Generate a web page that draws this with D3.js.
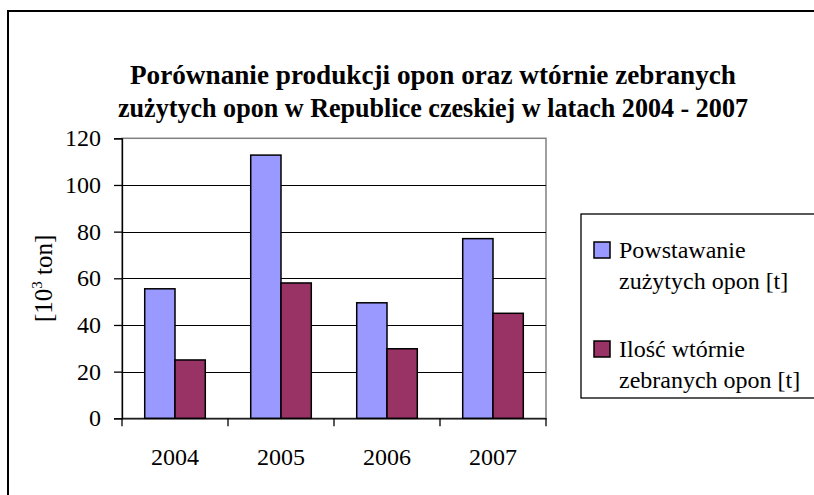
<!DOCTYPE html>
<html>
<head>
<meta charset="utf-8">
<script src="https://cdn.jsdelivr.net/npm/d3@7"></script>
<style>
  body { margin: 0; background: #fff; }
  text { font-family: "Liberation Serif", "Times New Roman", serif; fill: #000; }
</style>
</head>
<body>
<script>
// chart data
var years = ["2004", "2005", "2006", "2007"];
var seriesNames = ["Powstawanie zużytych opon [t]", "Ilość wtórnie zebranych opon [t]"];
var powstawanie = [55.5, 112.8, 49.5, 77];
var zebrane = [25, 58, 29.8, 45];
var yTicks = [0, 20, 40, 60, 80, 100, 120];
var titleLines = ["Porównanie produkcji opon oraz wtórnie zebranych",
                  "zużytych opon w Republice czeskiej w latach 2004 - 2007"];
var legendLines = [["Powstawanie", "zużytych opon [t]"], ["Ilość wtórnie", "zebranych opon [t]"]];
var colors = ["#9999FF", "#993366"];

var w = 814, h = 495;
var plotL = 122, plotR = 546, plotT = 138.3, plotB = 418.3;

var svg = d3.select("body").append("svg")
    .attr("width", w)
    .attr("height", h);

// outer chart border (runs off right / bottom edge)
svg.append("rect")
    .attr("x", 8).attr("y", 11)
    .attr("width", 820).attr("height", 500)
    .style("fill", "#fff")
    .style("stroke", "#000")
    .style("stroke-width", 2);

// title (condensed bold, like the original)
svg.selectAll(".title")
    .data(titleLines)
    .enter()
    .append("text")
    .attr("class", "title")
    .attr("x", 433)
    .attr("y", function(d, i){ return 84 + i * 33; })
    .attr("text-anchor", "middle")
    .attr("textLength", function(d, i){ return i == 0 ? 606 : 630; })
    .attr("lengthAdjust", "spacingAndGlyphs")
    .style("font-weight", "bold")
    .style("font-size", "28px")
    .text(function(d){ return d; });

// scales
var y = d3.scaleLinear()
    .domain([0, 120])
    .range([plotB, plotT]);

var xCat = d3.scaleBand()
    .domain(years)
    .range([plotL, plotR]);

var xSer = d3.scaleBand()
    .domain([0, 1])
    .range([0, xCat.bandwidth()])
    .paddingOuter(0.75);

// plot area border (gray top/right)
svg.append("rect")
    .attr("x", plotL).attr("y", plotT)
    .attr("width", plotR - plotL).attr("height", plotB - plotT)
    .style("fill", "#fff")
    .style("stroke", "#808080")
    .style("stroke-width", 1.5);

// gridlines
svg.selectAll(".grid")
    .data(yTicks.slice(1, -1))
    .enter()
    .append("line")
    .attr("class", "grid")
    .attr("x1", plotL).attr("x2", plotR)
    .attr("y1", function(d){ return Math.round(y(d)) + 0.5; })
    .attr("y2", function(d){ return Math.round(y(d)) + 0.5; })
    .style("stroke", "#000")
    .style("stroke-width", 1);

// bars
var rows = years.map(function(yr, i){ return { year: yr, vals: [powstawanie[i], zebrane[i]] }; });

var groups = svg.selectAll(".group")
    .data(rows)
    .enter()
    .append("g")
    .attr("class", "group")
    .attr("transform", function(d){ return "translate(" + xCat(d.year) + ",0)"; });

groups.selectAll("rect")
    .data(function(d){ return d.vals; })
    .enter()
    .append("rect")
    .attr("x", function(d, i){ return xSer(i); })
    .attr("y", function(d){ return y(d); })
    .attr("width", xSer.bandwidth())
    .attr("height", function(d){ return y(0) - y(d); })
    .style("fill", function(d, i){ return colors[i]; })
    .style("stroke", "#000")
    .style("stroke-width", 1.5);

// y axis
var yAxis = d3.axisLeft(y)
    .tickValues(yTicks)
    .tickSize(8)
    .tickPadding(13);

var yg = svg.append("g")
    .attr("transform", "translate(" + plotL + ",0)")
    .call(yAxis);
yg.selectAll("text").style("font-size", "24px").style("font-family", "Liberation Serif");
yg.selectAll("line, path").style("stroke", "#000").style("stroke-width", 1.3);

// x axis: labels centred, ticks on category boundaries
var xAxis = d3.axisBottom(xCat)
    .tickSize(0)
    .tickPadding(30);

var xg = svg.append("g")
    .attr("transform", "translate(0," + plotB + ")")
    .call(xAxis);
xg.selectAll("text").style("font-size", "24px").style("font-family", "Liberation Serif");
xg.select(".domain").style("stroke", "#000").style("stroke-width", 1.3);

var bounds = years.map(function(d){ return xCat(d); }).concat([plotR]);
xg.selectAll(".bound")
    .data(bounds)
    .enter()
    .append("line")
    .attr("class", "bound")
    .attr("x1", function(d){ return d; })
    .attr("x2", function(d){ return d; })
    .attr("y1", 0).attr("y2", 8)
    .style("stroke", "#000")
    .style("stroke-width", 1.3);

// y axis title
var yTitle = svg.append("text")
    .attr("transform", "translate(52," + ((plotT + plotB) / 2) + ") rotate(-90)")
    .attr("text-anchor", "middle")
    .style("font-size", "25px");
yTitle.append("tspan").text("[10");
yTitle.append("tspan").attr("dy", -10).style("font-size", "15px").text("3");
yTitle.append("tspan").attr("dy", 10).text(" ton]");

// legend
svg.append("rect")
    .attr("x", 581).attr("y", 214)
    .attr("width", 250).attr("height", 184)
    .style("fill", "#fff")
    .style("stroke", "#000")
    .style("stroke-width", 1.3);

var legend = svg.selectAll(".legend")
    .data(seriesNames)
    .enter()
    .append("g")
    .attr("class", "legend")
    .attr("transform", function(d, i){ return "translate(594," + (242 + i * 99) + ")"; });

legend.append("rect")
    .attr("width", 16).attr("height", 16)
    .style("fill", function(d, i){ return colors[i]; })
    .style("stroke", "#000")
    .style("stroke-width", 1.5);

legend.append("text")
    .attr("x", 25)
    .attr("y", 15.5)
    .style("font-size", "24px")
    .selectAll("tspan")
    .data(function(d, i){ return legendLines[i]; })
    .enter()
    .append("tspan")
    .attr("x", 25)
    .attr("dy", function(d, i){ return i == 0 ? 0 : 31; })
    .text(function(d){ return d; });
</script>
</body>
</html>
